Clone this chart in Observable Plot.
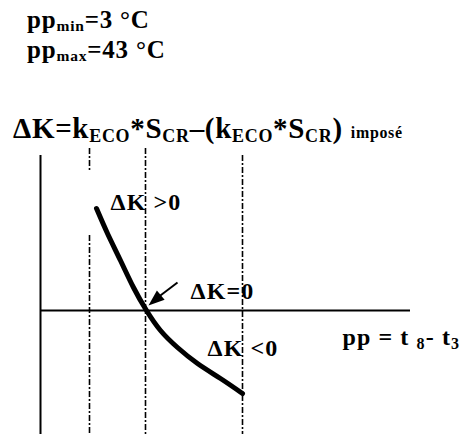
<!DOCTYPE html>
<html><head><meta charset="utf-8">
<script src="https://cdn.jsdelivr.net/npm/d3@7"></script>
<script src="https://cdn.jsdelivr.net/npm/@observablehq/plot@0.6"></script>
<style>
body{margin:0;background:#fff;}
#wrap{position:relative;width:462px;height:434px;overflow:hidden;font-family:'Liberation Serif','Times New Roman',serif;font-weight:bold;color:#000;}
#head{position:relative;height:140px;}
.h{position:absolute;white-space:nowrap;line-height:1;font-family:'Liberation Serif','Times New Roman',serif;}
.h1{left:27px;top:7px;font-size:25px;letter-spacing:0.8px;}
.h2{left:27px;top:37px;font-size:25px;letter-spacing:0.8px;}
.h3{left:13px;top:114px;font-size:29px;letter-spacing:0.7px;}
.s{font-size:0.62em;vertical-align:-0.2em;}
.imp{font-size:0.55em;}
#chart svg{display:block;}
</style></head>
<body><div id="wrap"><div id="head"></div><div id="chart"></div></div>
<script>
// Header values
const ppMin = 3, ppMax = 43;
// Curve ΔK(pp), schematic units
const curveX = [56, 67, 80, 93, 106, 120, 137, 157, 180, 202];
const curveY = [102, 77, 50, 23, 0, -20, -37, -53, -68, -83];
// Dash-dot guide segments
const guideX  = [49, 49, 105, 202];
const guideY1 = [162, 75, 162, 155];
const guideY2 = [138, -124, -124, -124];
// Axes extents
const axisXEnd = 370, axisYTop = 155, axisYBottom = -124;
// Labels
const labelText = ["ΔK >0", "ΔK=0", "ΔK <0", "pp = t _8- t_3"];
const labelX = [70, 150, 167, 302];
const labelY = [108, 19, -38, -27];
// Arrow (tail → tip)
const arrowX = [137, 108];
const arrowY = [28, 5];

const FONT = "'Liberation Serif', 'Times New Roman', serif";

document.getElementById("head").innerHTML =
  `<div class="h h1">pp<span class="s">min</span>=${ppMin} °C</div>` +
  `<div class="h h2">pp<span class="s">max</span>=${ppMax} °C</div>` +
  `<div class="h h3">ΔK=k<span class="s">ECO</span>*S<span class="s">CR</span>–(k<span class="s">ECO</span>*S<span class="s">CR</span>) <span class="imp">imposé</span></div>`;

const curve = curveX.map((x, i) => ({x, y: curveY[i]}));
const guides = guideX.map((x, i) => ({x, y1: guideY1[i], y2: guideY2[i]}));
const labels = labelText.map((t, i) => ({t, x: labelX[i], y: labelY[i]}));
const arrowHead = {
  draw(ctx) { ctx.moveTo(0, 0); ctx.lineTo(-6, 16); ctx.lineTo(6, 16); ctx.closePath(); }
};

const chart = Plot.plot({
  width: 462, height: 294, margin: 0,
  style: {background: "white", fontFamily: FONT, overflow: "visible"},
  x: {domain: [-40, 422], axis: null},
  y: {domain: [-124, 170], axis: null},
  marks: [
    Plot.ruleX([0], {y1: axisYTop, y2: axisYBottom, stroke: "black", strokeWidth: 2}),
    Plot.ruleY([0], {x1: 0, x2: axisXEnd, stroke: "black", strokeWidth: 2}),
    Plot.ruleX(guides, {x: "x", y1: "y1", y2: "y2", stroke: "black", strokeWidth: 1.6, strokeDasharray: "6,2,2,2"}),
    Plot.line(curve, {x: "x", y: "y", curve: "natural", stroke: "black", strokeWidth: 5}),
    Plot.link([0], {x1: arrowX[0], y1: arrowY[0], x2: arrowX[1] + 4, y2: arrowY[1] + 4, stroke: "black", strokeWidth: 2}),
    Plot.dot([0], {x: arrowX[1], y: arrowY[1], symbol: arrowHead, fill: "black", stroke: "none", rotate: 230}),
    Plot.text(labels, {x: "x", y: "y", text: "t", textAnchor: "start", fontSize: 24, fontWeight: "bold", fontFamily: FONT, fill: "black"})
  ]
});

chart.querySelectorAll("text").forEach(t => {
  t.setAttribute("letter-spacing", "1.1");
  const s = t.textContent;
  if (!s.includes("_")) return;
  t.textContent = "";
  const parts = s.split(/_(\S)/);
  parts.forEach((p, i) => {
    if (!p) return;
    const ts = document.createElementNS("http://www.w3.org/2000/svg", "tspan");
    ts.textContent = p;
    if (i % 2 === 1) { ts.setAttribute("font-size", "16"); ts.setAttribute("dy", "4"); }
    else if (i > 0) ts.setAttribute("dy", "-4");
    t.appendChild(ts);
  });
});

document.getElementById("chart").appendChild(chart);
</script>
</body></html>
